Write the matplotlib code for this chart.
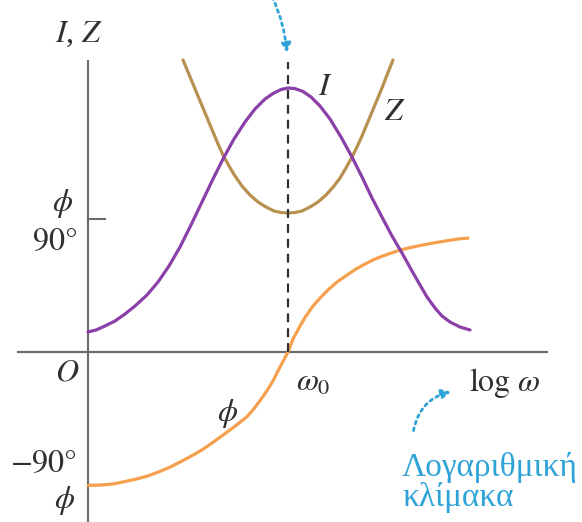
import matplotlib
matplotlib.use("Agg")
import matplotlib.pyplot as plt

plt.rcParams['font.family'] = ['Liberation Serif', 'DejaVu Serif']
plt.rcParams['mathtext.fontset'] = 'stix'

# x: log(w) measured from the vertical axis, resonance w0 at x = 2
# current I and impedance Z in arbitrary units
x_I = [0.00, 0.08, 0.17, 0.27, 0.37, 0.47, 0.59, 0.70, 0.81, 0.92, 1.03, 1.14, 1.24, 1.35,
       1.46, 1.57, 1.67, 1.77, 1.85, 1.93, 2.00, 2.07, 2.15, 2.23, 2.32, 2.42, 2.53, 2.64,
       2.74, 2.84, 2.95, 3.04, 3.14, 3.24, 3.32, 3.39, 3.47, 3.54, 3.62, 3.72, 3.82]
I_vals = [0.20, 0.22, 0.26, 0.31, 0.38, 0.46, 0.57, 0.70, 0.86, 1.05, 1.27, 1.50, 1.71, 1.93,
          2.13, 2.30, 2.43, 2.53, 2.585, 2.625, 2.64, 2.634, 2.605, 2.55, 2.46, 2.33, 2.15, 1.95,
          1.75, 1.54, 1.33, 1.16, 0.99, 0.81, 0.67, 0.55, 0.44, 0.36, 0.30, 0.25, 0.22]

x_Z = [0.95, 1.00, 1.05, 1.10, 1.15, 1.20, 1.25, 1.30, 1.35, 1.41, 1.47, 1.54, 1.62, 1.70,
       1.78, 1.86, 1.93, 2.00, 2.07, 2.14, 2.22, 2.30, 2.38, 2.46, 2.52, 2.58, 2.64, 2.69,
       2.74, 2.79, 2.84, 2.89, 2.94, 2.99, 3.05]
Z_vals = [2.92, 2.80, 2.68, 2.56, 2.44, 2.32, 2.20, 2.08, 1.97, 1.86, 1.76, 1.66, 1.57, 1.50,
          1.45, 1.41, 1.395, 1.39, 1.395, 1.41, 1.45, 1.50, 1.57, 1.66, 1.74, 1.84, 1.95, 2.05,
          2.16, 2.28, 2.40, 2.52, 2.64, 2.77, 2.92]

# phase angle in degrees
x_phi = [0.00, 0.12, 0.25, 0.37, 0.48, 0.59, 0.70, 0.81, 0.92, 1.03, 1.14, 1.25, 1.36, 1.48,
         1.59, 1.66, 1.72, 1.79, 1.85, 1.92, 2.00, 2.05, 2.12, 2.18, 2.25, 2.32, 2.40, 2.49,
         2.59, 2.68, 2.77, 2.85, 2.92, 3.02, 3.12, 3.27, 3.42, 3.57, 3.70, 3.80]
phi_vals = [-90.3, -90.0, -89.3, -87.6, -86.0, -84.0, -81.3, -78.2, -74.5, -70.5, -66.2,
            -61.1, -55.7, -49.7, -43.7, -38.3, -32.9, -26.2, -19.5, -10.1, 0.0, 8.8, 17.6,
            24.4, 31.1, 36.5, 42.0, 47.4, 52.1, 56.2, 59.5, 62.3, 64.3, 66.7, 69.0, 71.4,
            73.4, 75.1, 76.5, 77.1]

purple = '#8b3fa8'
brown = '#b8904f'
orange = '#f5a04e'
blue = '#2fa3d8'
ink = '#303030'
axis_grey = '#6b6b6b'

fig = plt.figure(figsize=(5.82, 5.22), dpi=100)
ax = fig.add_axes([0, 0, 1, 1])        # phase axis, degrees
ax.set_xlim(-0.88, 4.94)
ax.set_ylim(-115.0, 238.2)
ax.axis('off')
ax2 = ax.twinx()                       # I and Z, arbitrary units
ax2.set_ylim(-1.70, 3.52)
ax2.axis('off')

# axes through the origin
ax.plot([0, 0], [-115.0, 197.6], color=axis_grey, lw=1.5, solid_capstyle='butt')
ax.plot([-0.71, 4.60], [0, 0], color=axis_grey, lw=1.6, solid_capstyle='butt')
ax.plot([0, 0.17], [90, 90], color=axis_grey, lw=1.5)
ax.plot([0, 0.17], [-90, -90], color=ink, lw=1.5)

ax.plot(x_phi, phi_vals, color=orange, lw=2.3, solid_capstyle='round')
ax2.plot(x_Z, Z_vals, color=brown, lw=2.3, solid_capstyle='round')
ax2.plot(x_I, I_vals, color=purple, lw=2.3, solid_capstyle='round')

# resonance marker
ax2.plot([2.0, 2.0], [0, 2.90], color=ink, lw=1.6, dashes=(4, 2.7), zorder=3)

# labels
fs = 23
ax.text(-0.09, 215.2, r'$I$, $Z$', fontsize=fs, color=ink, ha='center', va='center')
ax.text(2.37, 179.3, r'$I$', fontsize=fs, color=ink, ha='center', va='center')
ax.text(3.07, 162.4, r'$Z$', fontsize=fs, color=ink, ha='center', va='center')
ax.text(-0.25, 100.8, r'$\phi$', fontsize=fs, color=ink, ha='center', va='center')
ax.text(-0.33, 73.8, r'$90\degree$', fontsize=fs, color=ink, ha='center', va='center')
ax.text(-0.21, -14.2, r'$O$', fontsize=fs, color=ink, ha='center', va='center')
ax.text(-0.45, -76.5, r'$-90\degree$', fontsize=fs, color=ink, ha='center', va='center')
ax.text(-0.23, -100.2, r'$\phi$', fontsize=fs, color=ink, ha='center', va='center')
ax.text(2.25, -21.0, r'$\omega_0$', fontsize=fs, color=ink, ha='center', va='center')
ax.text(1.40, -41.3, r'$\phi$', fontsize=fs, color=ink, ha='center', va='center')
ax.text(4.17, -21.0, r'$\log\,\omega$', fontsize=fs, color=ink, ha='center', va='center')

ax.text(3.14, -77.8, 'Λογαριθμική', fontsize=24, color=blue, ha='left', va='center')
ax.text(3.14, -98.1, 'κλίμακα', fontsize=24, color=blue, ha='left', va='center')

# dotted pointers
ax.annotate('', xy=(1.99, 200.5), xytext=(1.83, 242),
            arrowprops=dict(arrowstyle='-|>', color=blue, lw=2, linestyle=(0, (1, 1.5)),
                            connectionstyle='arc3,rad=-0.1', mutation_scale=14))
ax.annotate('', xy=(3.66, -26.5), xytext=(3.25, -55.0),
            arrowprops=dict(arrowstyle='-|>', color=blue, lw=2, linestyle=(0, (1, 1.5)),
                            connectionstyle='arc3,rad=-0.35', mutation_scale=14))

fig.savefig('out.png', dpi=100)
